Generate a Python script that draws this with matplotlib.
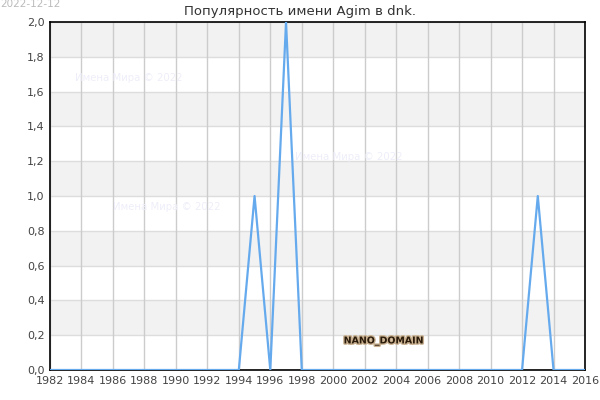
import matplotlib
matplotlib.use("Agg")
import matplotlib.pyplot as plt
import matplotlib.patheffects as pe
from matplotlib.ticker import FuncFormatter

years = list(range(1982, 2017))
values = [0]*len(years)
peaks = {1995: 1, 1997: 2, 2013: 1}
for y, v in peaks.items():
    values[years.index(y)] = v

title = "Популярность имени Agim в dnk."
date_text = "2022-12-12"
watermark = "Имена Мира © 2022"
x_ticks = list(range(1982, 2017, 2))
y_ticks = [round(0.2*i, 1) for i in range(11)]

fig = plt.figure(figsize=(6, 4), dpi=100)
ax = fig.add_axes([50/600, 30/400, 535/600, 348/400])
ax.set_xlim(1982, 2016)
ax.set_ylim(0, 2.0)

for i in range(10):
    lo = 0.2*i
    if i % 2 == 1:
        ax.axhspan(lo, lo+0.2, color="#f2f2f2", zorder=0, lw=0)
for yt in y_ticks:
    ax.axhline(yt, color="#dddddd", lw=1, zorder=1)
for xt in x_ticks:
    ax.axvline(xt, color="#cccccc", lw=1, zorder=1)

ax.plot(years, values, color="#66aaee", lw=1.6, zorder=3)

ax.set_xticks(x_ticks)
ax.set_yticks(y_ticks)
ax.yaxis.set_major_formatter(FuncFormatter(lambda v, p: f"{v:.1f}".replace(".", ",")))
ax.tick_params(length=0, labelsize=8, colors="#444444", pad=4)
for s in ax.spines.values():
    s.set_color("black")
    s.set_linewidth(1.2)

fig.text(0.5, 1 - 11/400, title, ha="center", va="center", fontsize=9.5, color="#333333")
fig.text(0.0, 1 - 4/400, date_text, ha="left", va="center", fontsize=7.5, color="#bbbbbb")

for (x, y) in [(75, 78), (113, 207), (295, 157)]:
    fig.text(x/600, 1 - y/400, watermark, ha="left", va="center", fontsize=7.3,
             color="#eeeefa", zorder=2)

fig.text(384/600, 1 - 341/400, "NANO_DOMAIN", ha="center", va="center", fontsize=6.8,
         color="#2a1a0a", fontweight="bold",
         path_effects=[pe.withStroke(linewidth=2, foreground="#c8b090")])

fig.savefig("out.png", dpi=100)
